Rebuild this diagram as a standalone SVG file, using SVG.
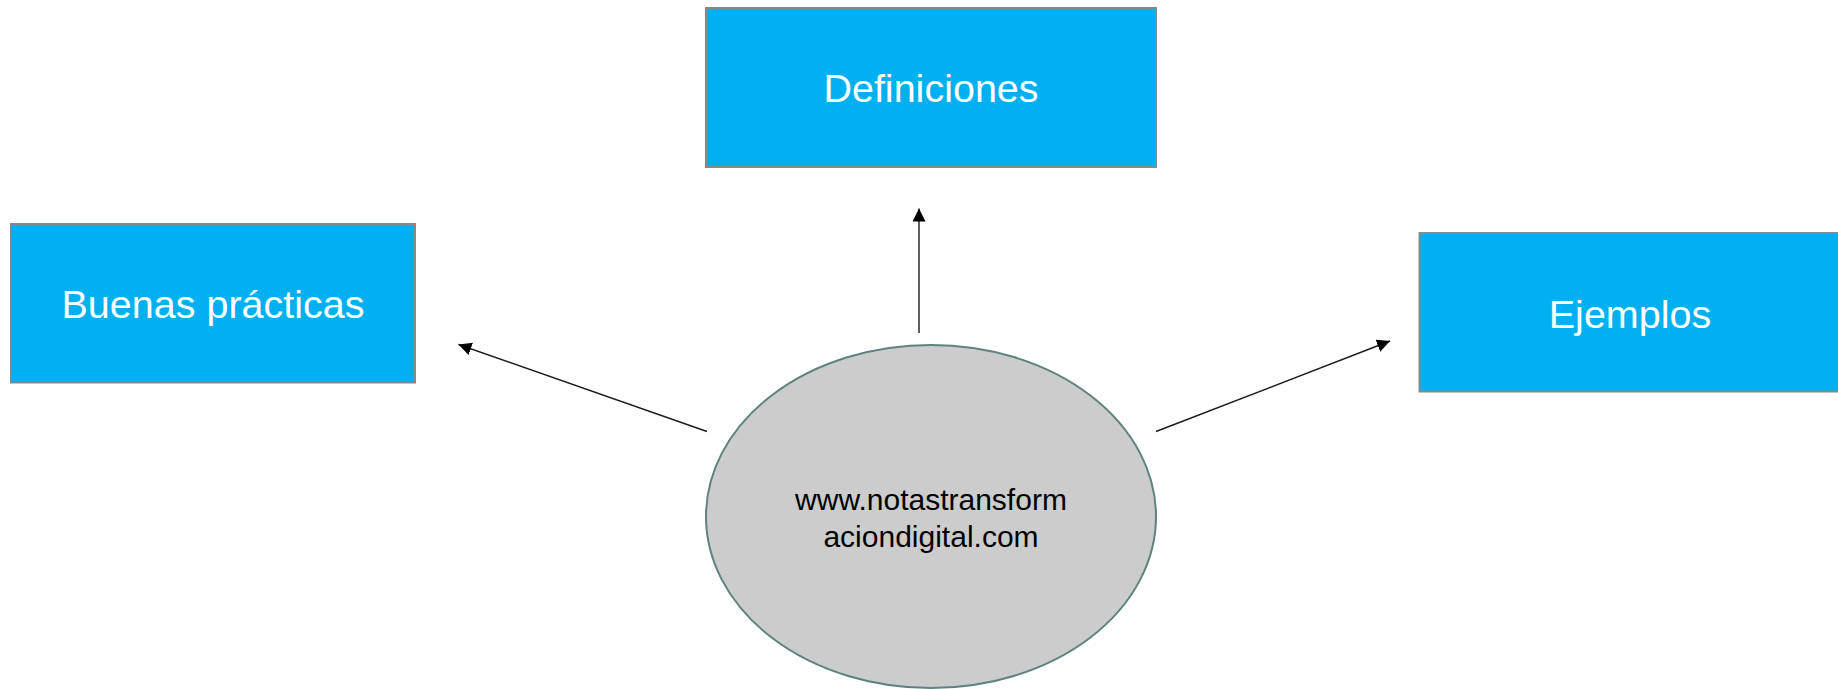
<svg xmlns="http://www.w3.org/2000/svg" width="1838" height="689" viewBox="0 0 1838 689">
<style>
.box{fill:#00B0F0;stroke:#7F8C8D;stroke-width:2}
.lbl{font-family:"Liberation Sans",Arial,sans-serif;font-size:39.5px;fill:#FFFFFF;text-anchor:middle}
.hub{fill:#CCCCCC;stroke:#5F827E;stroke-width:2}
.hubtxt{font-family:"Liberation Sans",Arial,sans-serif;font-size:30px;fill:#000000;text-anchor:middle}
.conn{stroke:#1A1A1A;stroke-width:1.4;fill:none;marker-end:url(#arrow)}
</style>
<defs>
<marker id="arrow" markerUnits="userSpaceOnUse" markerWidth="14" markerHeight="14" refX="13" refY="6.5" orient="auto">
<path d="M0,0 L13,6.5 L0,13 z" fill="#000000"/>
</marker>
</defs>
<rect width="1838" height="689" fill="#FFFFFF"/>
<g id="connectors">
<line class="conn" x1="919" y1="333" x2="919" y2="208.5"/>
<line class="conn" x1="707" y1="431.5" x2="458.5" y2="344.5"/>
<line class="conn" x1="1156" y1="431.5" x2="1390" y2="341"/>
</g>
<g id="node-definiciones">
<rect class="box" x="706" y="8" width="450" height="159"/>
<text class="lbl" x="931" y="102">Definiciones</text>
</g>
<g id="node-buenas">
<rect class="box" x="11" y="224" width="404" height="158.5"/>
<text class="lbl" x="213" y="317.5">Buenas prácticas</text>
</g>
<g id="node-ejemplos">
<rect class="box" x="1419.5" y="233" width="421" height="158.5"/>
<text class="lbl" x="1630" y="327.5">Ejemplos</text>
</g>
<g id="node-hub">
<ellipse class="hub" cx="931" cy="516.5" rx="225" ry="171.5"/>
<text class="hubtxt" x="931" y="510">www.notastransform</text>
<text class="hubtxt" x="931" y="546.5">aciondigital.com</text>
</g>
</svg>
